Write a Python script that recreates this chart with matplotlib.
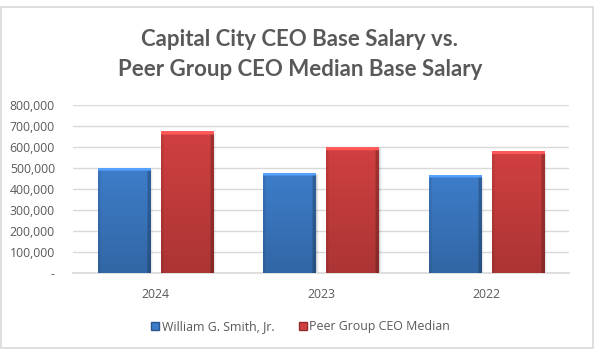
import matplotlib
matplotlib.use("Agg")
import matplotlib.pyplot as plt
import numpy as np
from matplotlib.patches import Rectangle
from matplotlib.ticker import FuncFormatter
from matplotlib.lines import Line2D

years = ["2024", "2023", "2022"]
smith = [500000, 476000, 462000]
peer = [673000, 600000, 578000]
series_names = ["William G. Smith, Jr.", "Peer Group CEO Median"]
title = "Capital City CEO Base Salary vs.\nPeer Group CEO Median Base Salary"

plt.rcParams['font.family'] = ['Open Sans', 'DejaVu Sans']
TXT = "#595959"

fig = plt.figure(figsize=(5.94, 3.5), dpi=100)
fig.patches.append(Rectangle((1/594, 2/350), 592/594, 341/350, transform=fig.transFigure,
                             fill=False, edgecolor="#d9d9d9", linewidth=1.2))
ax = fig.add_axes([73/594, 77/350, 496/594, 168/350])

x = np.arange(len(years))
w = 0.315
off = w/2 + 0.033
blue = np.array([0.24, 0.49, 0.79])
red = np.array([0.82, 0.25, 0.25])

def shade_bar(p, col):
    x0, y0, bw, bh = p.get_x(), p.get_y(), p.get_width(), p.get_height()
    ny, nx = 200, 60
    yy = np.linspace(1, 0, ny)[:, None]
    xx = np.linspace(0, 1, nx)[None, :]
    f = 1.0 - 0.18 * (1 - yy)
    f = f * np.where(xx > 0.94, 0.78, 1.0) * np.where(xx < 0.05, 0.92, 1.0)
    img = np.clip(col[None, None, :] * f[..., None], 0, 1)
    top = yy > 0.975
    img = np.where(top[..., None] & np.ones((1, nx, 1), bool),
                   np.clip(col[None, None, :] * 1.18 + 0.06, 0, 1), img)
    ax.imshow(img, extent=[x0, x0 + bw, y0, y0 + bh], aspect='auto', zorder=3,
              interpolation='bilinear')
    for i, a in enumerate([0.10, 0.06, 0.03]):
        d = 0.006 * (i + 1)
        ax.add_patch(Rectangle((x0 + d, y0 - 2500 * (i + 1)), bw, bh, facecolor='k',
                               alpha=a, edgecolor='none', zorder=2.5))

b1 = ax.bar(x - off, smith, w, color=blue, zorder=2, label=series_names[0])
b2 = ax.bar(x + off, peer, w, color=red, zorder=2, label=series_names[1])
for p in b1:
    shade_bar(p, blue)
for p in b2:
    shade_bar(p, red)

ax.set_xlim(-0.5, 2.5)
ax.set_ylim(0, 800000)
ax.set_yticks(np.arange(0, 800001, 100000))
ax.yaxis.set_major_formatter(FuncFormatter(lambda v, pos: "-" if v == 0 else f"{int(v):,}"))
ax.set_xticks(x)
ax.set_xticklabels(years)
ax.grid(axis='y', color="#d9d9d9", linewidth=1, zorder=0)
ax.set_axisbelow(True)
for s in ['top', 'right', 'left']:
    ax.spines[s].set_visible(False)
ax.spines['bottom'].set_color("#d9d9d9")
ax.spines['bottom'].set_linewidth(1.2)
ax.tick_params(axis='both', length=0, colors=TXT, labelsize=8.8)
ax.tick_params(axis='y', pad=13)
ax.tick_params(axis='x', pad=11)

fig.text(0.505, 0.845, title, ha='center', va='center', fontsize=16, fontweight='bold',
         color=TXT, linespacing=1.5, family=['Lato', 'DejaVu Sans'])

handles = [Line2D([], [], marker='s', linestyle='none', markersize=6, markerfacecolor=blue,
                  markeredgecolor=blue * 0.7),
           Line2D([], [], marker='s', linestyle='none', markersize=6, markerfacecolor=red,
                  markeredgecolor=red * 0.7)]
leg = fig.legend(handles, series_names, loc='center', bbox_to_anchor=(0.505, 0.066),
                 ncol=2, frameon=False, fontsize=8.9, handletextpad=0.1, columnspacing=1.9,
                 handlelength=0.8)
for t in leg.get_texts():
    t.set_color(TXT)

fig.savefig("out.png", dpi=100, facecolor='white')
